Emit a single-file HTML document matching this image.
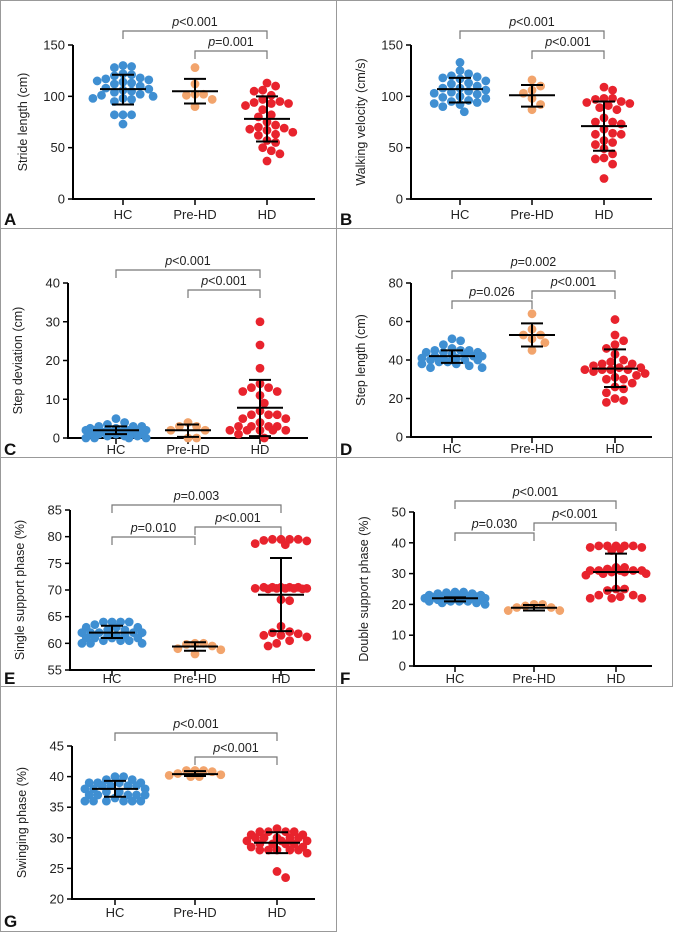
<!DOCTYPE html>
<html><head><meta charset="utf-8"><style>
html,body{margin:0;padding:0;background:#fff}
svg{display:block;font-family:"Liberation Sans",Arial,sans-serif}
</style></head><body>
<svg id="fig" width="673" height="932" viewBox="0 0 673 932"></svg>
<script>
// ---- data ----
const categories = ["HC","Pre-HD","HD"];
const hcA = [130,128,129,122,121,120,118,117,116,115,114,113,112,110,108,107,106,105,104,102,101,100,98,98,97,95,82,82,82,73];
const preA = [128,112,102,102,101,97,90];
const hdA = [113,110,106,105,101,97,95,94,93,93,91,87,82,80,75,72,70,69,68,67,65,63,62,57,55,50,47,44,37];
const statsA = [[107,92,121],[105,93,117],[78,56,100]];
const hcB = [133,125,122,120,119,118,117,115,113,112,110,108,108,106,105,104,103,102,100,99,98,96,95,94,93,92,90,85];
const preB = [116,110,106,103,98,92,87];
const hdB = [109,106,98,98,97,95,94,93,91,89,87,79,75,75,73,68,64,63,63,57,55,53,49,44,40,39,34,20];
const statsB = [[107,94,118],[101,90,111],[71,47,95]];
const hcC = [5,4,3.5,3,3,3,2.5,2.5,2,2,2,2,2,2,2,1.5,1.5,1.5,1,1,1,1,1,0.5,0.5,0.5,0,0,0,0];
const preC = [4,3,3,2,2,0,0];
const hdC = [30,24,18,14,13,13,12,12,11,9,7,6,6,6,5,5,4,3,3,3,3,2,2,2,2,2,1,0];
const statsC = [[2,1,3],[2,0.3,3.5],[7.8,0.5,15]];
const hcD = [51,50,48,46,45,45,45,44,44,44,43,43,42,42,42,41,41,41,40,40,40,40,39,39,38,38,37,36,36];
const preD = [64,56,53,53,51,49,45];
const hdD = [61,53,50,48,46,43,40,39,38,38,37,36,36,35,35,35,35,34,33,32,31,30,30,28,26,25,23,20,19,18];
const statsD = [[42,38.5,45],[53,47,59],[35.5,26,45.5]];
const hcE = [64,64,64,64,63.5,63,63,63,62.5,62.5,62,62,62,62,62,61.5,61.5,61.5,61,61,61,61,60.5,60.5,60.5,60,60,60];
const preE = [60,60,59.8,59.5,59,58.8,58];
const hdE = [79.5,79.5,79.5,79.5,79.3,79.2,78.7,78.5,70.5,70.5,70.5,70.5,70.5,70.3,70.3,70.3,70.3,70.3,70.2,70.2,68.2,68,63.2,62.2,62,61.8,61.5,61.5,61.2,60.5,60,59.5];
const statsE = [[62,61,63.3],[59.4,58.6,60.2],[69.1,62.3,76]];
const hcF = [24,24,23.8,23.5,23.5,23,23,23,22.8,22.5,22.5,22.5,22.3,22,22,22,22,21.8,21.5,21.5,21.5,21,21,21,21,20.5,20.5,20];
const preF = [20,20,19.5,19,19,18,18];
const hdF = [39,39,39,39,39,38.5,38.5,38,37.5,32,32,31.5,31,31,31,31,31,30.5,30.5,30,30,29.5,25,25,24.5,23,23,22.5,22,22,22];
const statsF = [[22,21,22.3],[18.9,18,19.8],[30.5,24.5,36.5]];
const hcG = [40,40,39.5,39.5,39,39,39,39,38.5,38.5,38.5,38.5,38,38,38,37.5,37.5,37,37,37,37,37,36.5,36,36,36,36,36,36];
const preG = [41,41,41,40.8,40.5,40.3,40.2,40,40];
const hdG = [31.5,31,31,31,31,30.5,30.5,30,30,30,30,30,29.5,29.5,29.5,29,29,29,29,28.5,28.5,28,28,28,28,28,27.5,24.5,23.5];
const statsG = [[38,36.7,39.3],[40.4,40.1,40.9],[29.2,27.5,30.9]];
const ticksA=[0,50,100,150], ticksC=[0,10,20,30,40], ticksD=[0,20,40,60,80], ticksE=[55,60,65,70,75,80,85], ticksF=[0,10,20,30,40,50], ticksG=[20,25,30,35,40,45];

const NS="http://www.w3.org/2000/svg";
const svg=document.getElementById('fig');
function mk(tag,attrs,parent,txt){const e=document.createElementNS(NS,tag);for(const k in attrs)e.setAttribute(k,attrs[k]);if(txt!==undefined)e.textContent=txt;(parent||svg).appendChild(e);return e;}
const colors=["#3f8fd2","#f2a46c","#e8232d"];

function panel(cfg){
  const g=mk('g',{});
  
  
  const box=mk('rect',{x:cfg.box[0]+0.5,y:cfg.box[1]+0.5,width:cfg.box[2]-1,height:cfg.box[3]-1,fill:'none',stroke:'#999','stroke-width':1},g);
  
  
  const y=v=>cfg.y0+(v-cfg.vmin)/(cfg.vmax-cfg.vmin)*(cfg.y1-cfg.y0);
  const ya=mk('line',{x1:cfg.ax,y1:y(cfg.vmax),x2:cfg.ax,y2:cfg.y0+1,stroke:'#000','stroke-width':2},g);
  
  
  const xa=mk('line',{x1:cfg.ax-1,y1:cfg.y0,x2:cfg.xEnd,y2:cfg.y0,stroke:'#000','stroke-width':2},g);
  
  
  cfg.ticks.forEach(t=>{
    mk('line',{x1:cfg.ax-5,y1:y(t),x2:cfg.ax,y2:y(t),stroke:'#000','stroke-width':1.5},g);
    const tl=mk('text',{x:cfg.ax-8,y:y(t)+4.5,'text-anchor':'end','font-size':13,fill:'#222'},g,String(t));
    
    
  });
  const yt=mk('text',{x:0,y:0,'text-anchor':'middle','font-size':12.5,fill:'#222',transform:`translate(${cfg.ax-46},${(cfg.y0+y(cfg.vmax))/2}) rotate(-90)`},g,cfg.ylabel);
  
  
  categories.forEach((c,i)=>{
    const cx=cfg.cats[i];
    mk('line',{x1:cx,y1:cfg.y0,x2:cx,y2:cfg.y0+6,stroke:'#000','stroke-width':1.5},g);
    const xl=mk('text',{x:cx,y:cfg.y0+cfg.labDy,'text-anchor':'middle','font-size':13,fill:'#222'},g,c);
    
    
  });
  const r=4.4, step=8.6, maxOff=32;
  cfg.groups.forEach((vals,gi)=>{
    const cx=cfg.cats[gi];
    const placed=[];
    vals.slice().sort((a,b)=>b-a).forEach(v=>{
      const py=y(v);
      let best=0,bestD=-1;
      for(let k=0;k<60;k++){
        const cand=k===0?0:(k%2?1:-1)*Math.ceil(k/2)*step/2;
        if(Math.abs(cand)>maxOff)break;
        const d=placed.length?Math.min(...placed.map(p=>Math.hypot(p[0]-(cx+cand),p[1]-py))):99;
        if(d>=step-0.4){best=cand;bestD=d;break;}
        if(d>bestD){bestD=d;best=cand;}
      }
      placed.push([cx+best,py]);
      const dot=mk('circle',{cx:cx+best,cy:py,r:r,fill:colors[gi]},g);
      
      
    });
  });
  cfg.stats.forEach((s,gi)=>{
    const cx=cfg.cats[gi];
    const m=mk('line',{x1:cx-23,y1:y(s[0]),x2:cx+23,y2:y(s[0]),stroke:'#000','stroke-width':2},g);
    
    
    const eb=mk('line',{x1:cx,y1:y(s[1]),x2:cx,y2:y(s[2]),stroke:'#000','stroke-width':2},g);
    
    
    [s[1],s[2]].forEach(v=>mk('line',{x1:cx-11,y1:y(v),x2:cx+11,y2:y(v),stroke:'#000','stroke-width':2},g));
  });
  cfg.brackets.forEach(b=>{
    const x1=cfg.cats[b[0]],x2=cfg.cats[b[1]],by=b[2];
    const br=mk('path',{d:`M${x1},${by+8}V${by}H${x2}V${by+8}`,fill:'none',stroke:'#777','stroke-width':1.2},g);
    
    
    const t=mk('text',{x:(x1+x2)/2,y:by-5,'text-anchor':'middle','font-size':12.5,fill:'#222'},g);
    
    
    mk('tspan',{'font-style':'italic'},t,'p');
    mk('tspan',{},t,b[3]);
  });
  const L=mk('text',{x:cfg.box[0]+4,y:cfg.letterY,'font-size':17,'font-weight':'bold',fill:'#111'},g,cfg.letter);
  
  
}

panel({letter:'A',box:[0,0,337,229],letterY:225,labDy:20,ax:73,xEnd:315,y0:199,y1:45,vmin:0,vmax:150,ticks:ticksA,cats:[123,195,267],ylabel:'Stride length (cm)',groups:[hcA,preA,hdA],stats:statsA,brackets:[[0,2,31,'<0.001'],[1,2,51,'=0.001']]});
panel({letter:'B',box:[336,0,337,229],letterY:225,labDy:20,ax:411,xEnd:652,y0:199,y1:45,vmin:0,vmax:150,ticks:ticksA,cats:[460,532,604],ylabel:'Walking velocity (cm/s)',groups:[hcB,preB,hdB],stats:statsB,brackets:[[0,2,31,'<0.001'],[1,2,51,'<0.001']]});
panel({letter:'C',box:[0,228,337,230],letterY:455,labDy:16,ax:68,xEnd:308,y0:438,y1:283,vmin:0,vmax:40,ticks:ticksC,cats:[116,188,260],ylabel:'Step deviation (cm)',groups:[hcC,preC,hdC],stats:statsC,brackets:[[0,2,270,'<0.001'],[1,2,290,'<0.001']]});
panel({letter:'D',box:[336,228,337,230],letterY:455,labDy:16,ax:411,xEnd:652,y0:437,y1:283,vmin:0,vmax:80,ticks:ticksD,cats:[452,532,615],ylabel:'Step length (cm)',groups:[hcD,preD,hdD],stats:statsD,brackets:[[0,2,271,'=0.002'],[1,2,291,'<0.001'],[0,1,301,'=0.026']]});
panel({letter:'E',box:[0,457,337,230],letterY:684,labDy:13,ax:70,xEnd:315,y0:670,y1:510,vmin:55,vmax:85,ticks:ticksE,cats:[112,195,281],ylabel:'Single support phase (%)',groups:[hcE,preE,hdE],stats:statsE,brackets:[[0,2,505,'=0.003'],[1,2,527,'<0.001'],[0,1,537,'=0.010']]});
panel({letter:'F',box:[336,457,337,230],letterY:684,labDy:17,ax:414,xEnd:652,y0:666,y1:512,vmin:0,vmax:50,ticks:ticksF,cats:[455,534,616],ylabel:'Double support phase (%)',groups:[hcF,preF,hdF],stats:statsF,brackets:[[0,2,501,'<0.001'],[1,2,523,'<0.001'],[0,1,533,'=0.030']]});
panel({letter:'G',box:[0,686,337,246],letterY:927,labDy:18,ax:72,xEnd:315,y0:899,y1:746,vmin:20,vmax:45,ticks:ticksG,cats:[115,195,277],ylabel:'Swinging phase (%)',groups:[hcG,preG,hdG],stats:statsG,brackets:[[0,2,733,'<0.001'],[1,2,757,'<0.001']]});
</script>
</body></html>
